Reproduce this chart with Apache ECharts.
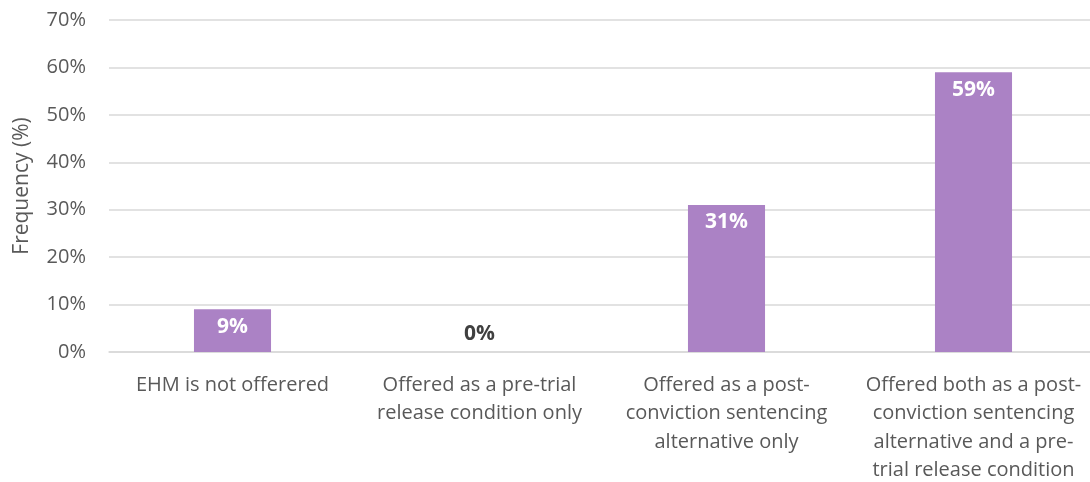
<!DOCTYPE html>
<html><head><meta charset="utf-8">
<script src="https://cdn.jsdelivr.net/npm/echarts@6/dist/echarts.min.js"></script>
<style>html,body{margin:0;padding:0;background:#fff}#c{width:1090px;height:482px}</style>
</head><body><div id="c"></div>
<script>
const categories = [
  "EHM is not offerered",
  "Offered as a pre-trial\nrelease condition only",
  "Offered as a post-\nconviction sentencing\nalternative only",
  "Offered both as a post-\nconviction sentencing\nalternative and a pre-\ntrial release condition"
];
const values = [9, 0, 31, 59];
const yTicks = [0, 10, 20, 30, 40, 50, 60, 70];
const yTitle = "Frequency (%)";

const font = "Open Sans";
const chart = echarts.init(document.getElementById('c'));
chart.setOption({
  animation: false,
  grid: {left: 109, right: -7, top: 20, bottom: 130, outerBoundsMode: 'none', containLabel: false},
  xAxis: {
    type: 'category', data: categories,
    axisLine: {lineStyle: {color: '#d9d9d9', width: 1.5}},
    axisTick: {show: false},
    axisLabel: {color: '#595959', fontSize: 20, fontFamily: font, lineHeight: 28.5, margin: 19, interval: 0}
  },
  yAxis: {
    type: 'value', min: yTicks[0], max: yTicks[yTicks.length-1], interval: 10,
    name: yTitle, nameLocation: 'middle', nameGap: 76,
    nameTextStyle: {color: '#595959', fontSize: 21, fontFamily: font},
    axisLabel: {color: '#595959', fontSize: 20, fontFamily: font, margin: 23, formatter: v => v + '%'},
    splitLine: {lineStyle: {color: '#d9d9d9', width: 1.5}},
    axisLine: {show: false}, axisTick: {show: false}
  },
  series: [{
    type: 'bar', barWidth: '31.2%',
    itemStyle: {color: '#ab82c5'},
    data: values.map(v => ({
      value: v,
      label: v > 0
        ? {show: true, position: 'insideTop', distance: 7, color: '#fff', fontWeight: 'bold', fontSize: 21, fontFamily: font, formatter: '{c}%'}
        : {show: true, position: 'top', distance: 7, color: '#404040', fontWeight: 'bold', fontSize: 21, fontFamily: font, formatter: '{c}%'}
    }))
  }]
});
</script></body></html>
